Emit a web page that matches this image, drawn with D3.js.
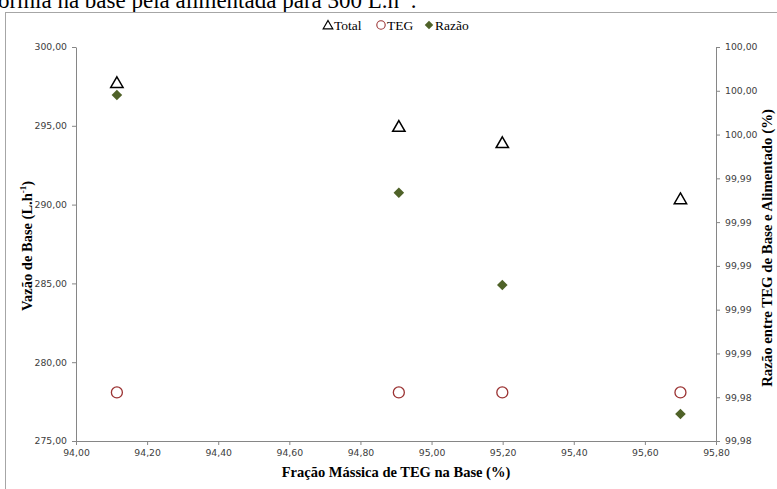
<!DOCTYPE html>
<html>
<head>
<meta charset="utf-8">
<script src="https://cdn.jsdelivr.net/npm/d3@7"></script>
<style>
  html, body { margin: 0; padding: 0; background: #fff; }
  svg { display: block; }
</style>
</head>
<body>
<div id="chart"></div>
<script>
// Mass fraction of TEG in the bottom stream (%)
const fracao = [94.115, 94.908, 95.199, 95.700];
// Bottom flow rates (L/h)
const total = [297.72, 294.94, 293.91, 290.35];
const teg = [278.08, 278.08, 278.08, 278.08];
// Ratio between TEG in bottoms and in feed (%)
const razao = [99.99781, 99.99334, 99.98913, 99.98323];

const xTicks = [94.0, 94.2, 94.4, 94.6, 94.8, 95.0, 95.2, 95.4, 95.6, 95.8];
const yLeftTicks = [275, 280, 285, 290, 295, 300];
const yRightTicks = [99.982, 99.984, 99.986, 99.988, 99.990, 99.992, 99.994, 99.996, 99.998, 100.000];

const W = 777, H = 489;
const plot = { left: 76, right: 716, top: 47, bottom: 441 };
const axisColor = "#868686";
const tickFont = "'DejaVu Sans', Verdana, sans-serif";
const serif = "'Liberation Serif', 'Times New Roman', serif";
const fmt = v => d3.format(".2f")(v).replace(".", ",");

const svg = d3.select("#chart").append("svg")
  .attr("width", W).attr("height", H);

// caption line above the chart
const cap = svg.append("text")
  .attr("x", -2).attr("y", 8)
  .attr("font-family", serif).attr("font-size", 23).attr("fill", "#000");
cap.append("tspan").text("ormia na base pela alimentada para 300 L.h");
cap.append("tspan").attr("font-size", 14).attr("dy", -9).text("-1");
cap.append("tspan").attr("dy", 9).text(".");

// chart frame
svg.append("rect")
  .attr("x", 5.5).attr("y", 12.5).attr("width", 780).attr("height", 490)
  .attr("fill", "#fff").attr("stroke", "#a6a6a6").attr("stroke-width", 1);

const x = d3.scaleLinear().domain([94.0, 95.8]).range([plot.left, plot.right]);
const yL = d3.scaleLinear().domain([275, 300]).range([plot.bottom, plot.top]);
const yR = d3.scaleLinear().domain([99.982, 100.0]).range([plot.bottom, plot.top]);

function styleAxis(g) {
  g.select(".domain").attr("stroke", axisColor);
  g.selectAll(".tick line").attr("stroke", axisColor);
  g.selectAll(".tick text").attr("fill", "#404040")
    .attr("font-family", tickFont).attr("font-size", 9.3);
}

svg.append("g")
  .attr("transform", `translate(0,${plot.bottom})`)
  .call(d3.axisBottom(x).tickValues(xTicks).tickFormat(fmt).tickSize(4).tickSizeOuter(0).tickPadding(4))
  .call(styleAxis);

svg.append("g")
  .attr("transform", `translate(${plot.left},0)`)
  .call(d3.axisLeft(yL).tickValues(yLeftTicks).tickFormat(fmt).tickSize(4).tickSizeOuter(0).tickPadding(5))
  .call(styleAxis);

svg.append("g")
  .attr("transform", `translate(${plot.right},0)`)
  .call(d3.axisRight(yR).tickValues(yRightTicks).tickFormat(fmt).tickSize(4).tickSizeOuter(0).tickPadding(5))
  .call(styleAxis);

// markers
const tri = d3.symbol().type(d3.symbolTriangle).size(66);
const dia = d3.symbol().type(d3.symbolSquare).size(56);

svg.append("g").selectAll("path").data(fracao.map((f, i) => [f, total[i]]))
  .join("path")
  .attr("d", tri)
  .attr("transform", d => `translate(${x(d[0])},${yL(d[1]) + 1})`)
  .attr("fill", "#fff").attr("stroke", "#000").attr("stroke-width", 1.5);

svg.append("g").selectAll("circle").data(fracao.map((f, i) => [f, teg[i]]))
  .join("circle")
  .attr("cx", d => x(d[0])).attr("cy", d => yL(d[1])).attr("r", 5.5)
  .attr("fill", "#fff").attr("stroke", "#9b3333").attr("stroke-width", 1.3);

svg.append("g").selectAll("path").data(fracao.map((f, i) => [f, razao[i]]))
  .join("path")
  .attr("d", dia)
  .attr("transform", d => `translate(${x(d[0])},${yR(d[1])}) rotate(45)`)
  .attr("fill", "#4f6228");

// axis titles
const yTitle = svg.append("text")
  .attr("transform", `translate(32,246) rotate(-90)`)
  .attr("text-anchor", "middle")
  .attr("font-family", serif).attr("font-weight", "bold").attr("font-size", 14.5);
yTitle.append("tspan").text("Vazão de Base (L.h");
yTitle.append("tspan").attr("font-size", 9).attr("dy", -6).text("-1");
yTitle.append("tspan").attr("dy", 6).text(")");

svg.append("text")
  .attr("transform", `translate(772,248) rotate(-90)`)
  .attr("text-anchor", "middle")
  .attr("font-family", serif).attr("font-weight", "bold").attr("font-size", 14.8)
  .text("Razão entre TEG de Base e Alimentado (%)");

svg.append("text")
  .attr("x", 396).attr("y", 477)
  .attr("text-anchor", "middle")
  .attr("font-family", serif).attr("font-weight", "bold").attr("font-size", 14.5)
  .text("Fração Mássica de TEG na Base (%)");

// legend
const lg = svg.append("g").attr("font-family", serif).attr("font-size", 13.5);
const legendItems = [
  { label: "Total", kind: "tri", x: 328 },
  { label: "TEG", kind: "circ", x: 381 },
  { label: "Razão", kind: "dia", x: 429 }
];
legendItems.forEach(it => {
  const cy = 25;
  if (it.kind === "tri") {
    lg.append("path").attr("d", d3.symbol().type(d3.symbolTriangle).size(40))
      .attr("transform", `translate(${it.x},${cy + 1})`)
      .attr("fill", "#fff").attr("stroke", "#000").attr("stroke-width", 1.2);
  } else if (it.kind === "circ") {
    lg.append("circle").attr("cx", it.x).attr("cy", cy).attr("r", 4.2)
      .attr("fill", "#fff").attr("stroke", "#9b3333").attr("stroke-width", 1.1);
  } else {
    lg.append("path").attr("d", d3.symbol().type(d3.symbolSquare).size(36))
      .attr("transform", `translate(${it.x},${cy}) rotate(45)`).attr("fill", "#4f6228");
  }
  lg.append("text").attr("x", it.x + 6).attr("y", cy + 4.5).text(it.label);
});
</script>
</body>
</html>
